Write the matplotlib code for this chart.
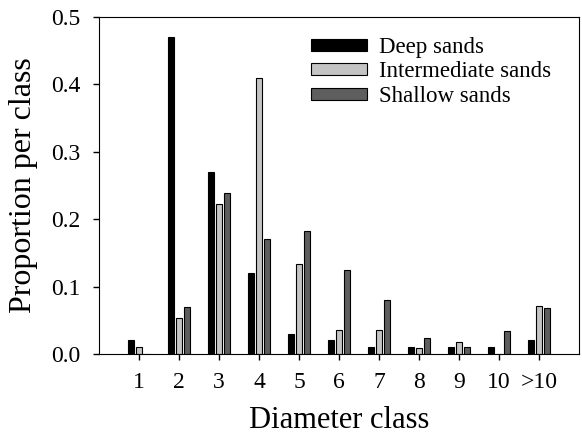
import numpy as np
import matplotlib.pyplot as plt

plt.rcParams['font.family'] = ['Liberation Serif', 'DejaVu Serif']

classes = ["1", "2", "3", "4", "5", "6", "7", "8", "9", "10", ">10"]
deep = [0.02, 0.47, 0.27, 0.12, 0.03, 0.02, 0.01, 0.01, 0.01, 0.01, 0.02]
intermediate = [0.01, 0.054, 0.223, 0.41, 0.134, 0.036, 0.036, 0.009, 0.018, 0.0, 0.071]
shallow = [0.0, 0.069, 0.239, 0.17, 0.182, 0.125, 0.08, 0.023, 0.011, 0.034, 0.068]

x = np.arange(1, len(classes) + 1)
w = 0.15

fig = plt.figure(figsize=(5.82, 4.43), dpi=100)
ax = fig.add_axes([0.170, 0.201, 0.825, 0.761])

ax.bar(x - 0.2, deep, w, color="black", edgecolor="black", linewidth=0.8, label="Deep sands")
ax.bar(x, intermediate, w, color="#c4c4c4", edgecolor="black", linewidth=0.8, label="Intermediate sands")
ax.bar(x + 0.2, shallow, w, color="#5e5e5e", edgecolor="black", linewidth=0.8, label="Shallow sands")

ax.set_xlim(0, 12)
ax.set_ylim(0, 0.5)
ax.set_xticks(x)
ax.set_xticklabels(classes, fontsize=17)
ax.set_yticks(np.arange(0, 0.51, 0.1))
ax.set_yticklabels(["%.1f" % v for v in np.arange(0, 0.51, 0.1)], fontsize=17)
ax.tick_params(direction="out", length=4, width=1)
ax.tick_params(axis="y", pad=9.5)
ax.tick_params(axis="x", pad=9)

ax.set_xlabel("Diameter class", fontsize=22, labelpad=9)
ax.set_ylabel("Proportion per class", fontsize=23, labelpad=9)

# legend sits inside the axes, upper middle
leg = ax.legend(loc="upper left", bbox_to_anchor=(0.442, 0.94), frameon=False,
                fontsize=16.5, handlelength=2.45, handleheight=0.44,
                labelspacing=0.15, handletextpad=0.52,
                borderpad=0, borderaxespad=0)

plt.savefig("out.png", dpi=100)
